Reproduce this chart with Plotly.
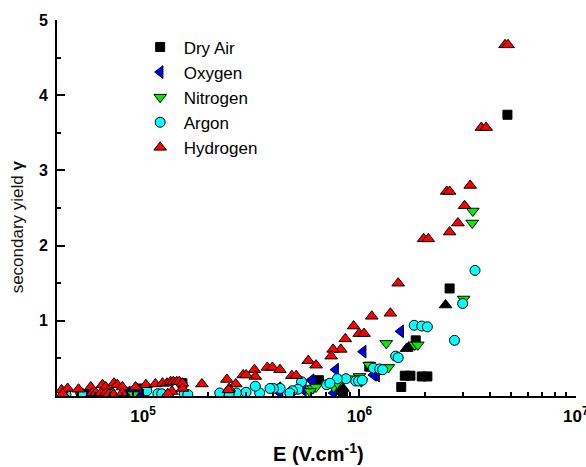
import plotly.graph_objects as go

# Field strength E (V/cm) and secondary yield gamma for each gas
dry_air_E = [4.83e6, 2.61e6, 1.82e6, 1.62e6, 1.72e6, 1.94e6, 2.06e6, 1.56e6, 1.11e6, 1.24e6,
             6.5e5, 8.4e5, 1.52e5, 9.5e4, 4.4e4]
dry_air_g = [3.74, 1.43, 0.74, 0.27, 0.27, 0.26, 0.26, 0.12, 0.39, 0.35,
             0.21, 0.02, 0.17, 0.10, 0.05]

dry_air_tri_E = [2.50e6, 1.69e6, 1.65e6, 8.4e5, 8.1e5]
dry_air_tri_g = [1.21, 0.65, 0.63, 0.10, 0.06]

oxygen_E = [1.55e6, 1.04e6, 7.76e5, 1.20e6, 1.16e6, 5.98e5, 6.1e5, 7.9e5, 4.2e5, 5.5e5,
            7.6e5, 4.18e5, 4.3e5, 5.43e4, 5.63e4, 5.73e4, 8.46e4, 8.92e4, 9.56e4, 9.9e4,
            1.03e5, 7.0e4, 6.5e4]
oxygen_g = [0.86, 0.59, 0.35, 0.27, 0.28, 0.21, 0.19, 0.17, 0.10, 0.08,
            0.04, 0.10, 0.04, 0.04, 0.05, 0.04, 0.05, 0.06, 0.04, 0.05,
            0.04, 0.03, 0.02]

nitrogen_E = [3.34e6, 3.32e6, 3.03e6, 1.33e6, 1.80e6, 1.86e6, 1.11e6, 1.36e6, 1.0e6, 9.5e5,
              1.02e6, 6.1e5, 6.3e5, 5.9e5, 7.6e5, 7.9e5, 9.0e4, 2.3e5]
nitrogen_g = [2.46, 2.30, 1.29, 0.70, 0.68, 0.68, 0.41, 0.38, 0.26, 0.23,
              0.19, 0.10, 0.12, 0.06, 0.12, 0.17, 0.02, 0.02]

argon_E = [3.42e6, 3.0e6, 2.75e6, 1.79e6, 1.94e6, 2.06e6, 1.47e6, 1.51e6, 1.16e6, 1.24e6,
           1.28e6, 9.6e5, 9.9e5, 1.03e6, 8.66e5, 7.9e5, 7.05e5, 7.3e5, 5.4e5, 5.2e5,
           4.9e5, 4.77e5, 4.3e5, 4.0e5, 3.86e5, 3.46e5, 3.3e5, 2.99e5, 2.7e5, 2.5e5,
           2.26e5, 1.55e5, 1.61e5, 1.17e5, 1.22e5, 1.04e5, 7.1e4, 5.15e4, 5.2e4, 4.4e4]
argon_g = [1.67, 1.23, 0.74, 0.94, 0.93, 0.92, 0.53, 0.51, 0.37, 0.36,
           0.35, 0.20, 0.20, 0.21, 0.23, 0.23, 0.15, 0.17, 0.19, 0.09,
           0.07, 0.04, 0.10, 0.10, 0.10, 0.04, 0.13, 0.05, 0.04, 0.03,
           0.04, 0.03, 0.02, 0.03, 0.03, 0.07, 0.04, 0.04, 0.02, 0.02]

hydrogen_E = [4.71e6, 4.86e6, 3.66e6, 3.85e6, 3.25e6, 2.53e6, 2.61e6, 3.06e6, 2.85e6, 2.61e6,
              1.98e6, 2.08e6, 1.51e6, 1.39e6, 1.14e6, 9.4e5, 9.97e5, 1.05e6, 8.6e5, 8.2e5,
              7.55e5, 7.4e5, 5.8e5, 6.3e5, 3.75e5, 3.96e5, 4.29e5, 3.27e5, 3.3e5, 2.9e5,
              2.99e5, 2.44e5, 2.68e5, 2.5e5, 2.48e5, 4.87e5, 5.1e5, 1.87e5,
              4.2e4, 4.48e4, 5.03e4, 5.73e4, 6.49e4, 6.72e4, 7.34e4, 7.6e4, 8.02e4, 9.23e4,
              1.03e5, 1.14e5, 1.23e5, 1.29e5, 1.34e5, 1.38e5, 1.43e5, 1.47e5, 1.52e5,
              4.25e4, 5.83e4, 6.05e4, 6.37e4, 6.72e4, 6.94e4, 7.3e4, 8.0e4, 1.36e5, 1.52e5,
              1.30e5]
hydrogen_g = [4.67, 4.67, 3.57, 3.57, 2.80, 2.72, 2.72, 2.53, 2.30, 2.18,
              2.09, 2.09, 1.50, 1.10, 1.06, 0.93, 0.83, 0.83, 0.76, 0.62,
              0.62, 0.53, 0.47, 0.41, 0.38, 0.38, 0.35, 0.35, 0.26, 0.28,
              0.28, 0.22, 0.16, 0.10, 0.08, 0.27, 0.27, 0.16,
              0.08, 0.10, 0.09, 0.12, 0.15, 0.12, 0.17, 0.15, 0.12, 0.12,
              0.15, 0.16, 0.17, 0.17, 0.19, 0.19, 0.19, 0.19, 0.17,
              0.03, 0.04, 0.04, 0.04, 0.04, 0.03, 0.02, 0.04, 0.06, 0.10,
              0.03]

x_tick_vals = [1e5, 1e6, 1e7]
x_tick_text = ["<b>10<sup>5</sup></b>", "<b>10<sup>6</sup></b>", "<b>10<sup>7</sup></b>"]
x_minor_vals = [m * 10 ** d for d in (4, 5, 6) for m in range(2, 10) if m * 10 ** d >= 4e4]
y_tick_vals = [1, 2, 3, 4, 5]
y_tick_text = ["<b>1</b>", "<b>2</b>", "<b>3</b>", "<b>4</b>", "<b>5</b>"]
y_minor_vals = [0.5, 1.5, 2.5, 3.5, 4.5]

FONT = "Liberation Sans, Arial, sans-serif"
edge = dict(color="black", width=1)

fig = go.Figure()

fig.add_trace(go.Scatter(x=dry_air_tri_E, y=dry_air_tri_g, mode="markers", showlegend=False,
                         marker=dict(symbol="triangle-up", size=11, color="black", line=edge)))
fig.add_trace(go.Scatter(x=dry_air_E, y=dry_air_g, mode="markers", name="Dry Air",
                         marker=dict(symbol="square", size=9, color="black", line=edge)))
fig.add_trace(go.Scatter(x=oxygen_E, y=oxygen_g, mode="markers", name="Oxygen",
                         marker=dict(symbol="triangle-left", size=11, color="#0000FF", line=edge)))
fig.add_trace(go.Scatter(x=nitrogen_E, y=nitrogen_g, mode="markers", name="Nitrogen",
                         marker=dict(symbol="triangle-down", size=11, color="#00F000", line=edge)))
fig.add_trace(go.Scatter(x=argon_E, y=argon_g, mode="markers", name="Argon",
                         marker=dict(symbol="circle", size=10, color="#00FFFF", line=edge)))
fig.add_trace(go.Scatter(x=hydrogen_E, y=hydrogen_g, mode="markers", name="Hydrogen",
                         marker=dict(symbol="triangle-up", size=11, color="#FF0000", line=edge)))

fig.update_layout(
    width=586, height=467,
    margin=dict(l=57, r=10, t=20, b=71),
    paper_bgcolor="white", plot_bgcolor="white",
    font=dict(family=FONT, color="black"),
    legend=dict(x=0.1535, y=0.975, xanchor="left", yanchor="top",
                font=dict(size=17, family=FONT), bgcolor="rgba(0,0,0,0)",
                itemwidth=37),
    xaxis=dict(type="log", range=[4.60206, 7.0008], showline=True, linecolor="black", linewidth=2,
               showgrid=False, zeroline=False, ticks="inside", ticklen=7, tickwidth=2,
               tickcolor="black", tickvals=x_tick_vals, ticktext=x_tick_text,
               tickfont=dict(size=17, family=FONT), ticklabelstandoff=4,
               ticklabeloverflow="allow", automargin=False,
               minor=dict(tickmode="array", tickvals=x_minor_vals, ticks="inside",
                          ticklen=4, tickwidth=1.5, tickcolor="black", showgrid=False)),
    yaxis=dict(range=[0, 5], showline=True, linecolor="black", linewidth=2,
               showgrid=False, zeroline=False, ticks="inside", ticklen=8, tickwidth=2,
               tickcolor="black", tickvals=y_tick_vals, ticktext=y_tick_text,
               tickfont=dict(size=16, family=FONT), ticklabelstandoff=4, automargin=False,
               minor=dict(tickmode="array", tickvals=y_minor_vals, ticks="inside",
                          ticklen=4, tickwidth=1.5, tickcolor="black", showgrid=False)),
    annotations=[
        dict(text="secondary yield <b>γ</b>", x=-0.076, y=0.45, xref="paper", yref="paper",
             xanchor="center", yanchor="middle",
             textangle=-90, showarrow=False, font=dict(size=17, family=FONT, color="#111")),
        dict(text="<b>E (V.cm<sup>-1</sup>)</b>", x=0.503, y=-0.15, xref="paper", yref="paper",
             xanchor="center", yanchor="middle",
             showarrow=False, font=dict(size=20, family=FONT)),
    ],
)

fig.write_html("out.html")
